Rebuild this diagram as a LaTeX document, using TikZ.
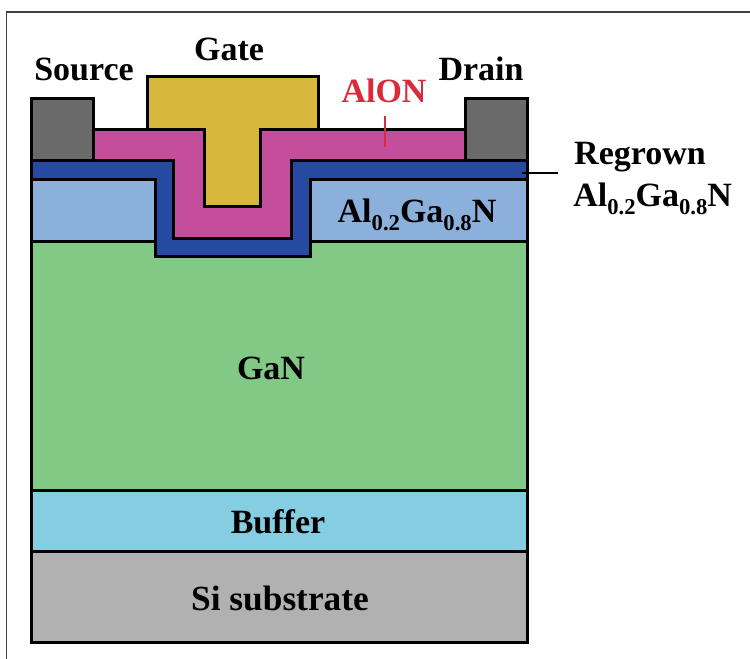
\documentclass[tikz,border=0pt]{standalone}
\usepackage{fontspec}
\setmainfont{Liberation Serif}
\newcommand{\lowsub}[1]{\raisebox{-0.22em}{\fontsize{17}{17}\selectfont #1}}
\tikzset{
  x=0.75pt,y=-0.75pt,
  layer/.style={draw=black,line width=2.25pt,line join=miter},
  lbl/.style={font=\fontsize{25.5}{30}\selectfont\bfseries,inner sep=0pt,text=black},
  frameline/.style={draw=black!75,line width=1pt}
}
\definecolor{metal}{HTML}{6A6A6A}
\definecolor{gold}{HTML}{D8B83C}
\definecolor{alon}{HTML}{C54E9C}
\definecolor{regrown}{HTML}{2649A2}
\definecolor{algan}{HTML}{8BB0DC}
\definecolor{gan}{HTML}{82C985}
\definecolor{buffer}{HTML}{85CDE0}
\definecolor{subst}{HTML}{B1B1B1}
\definecolor{alonred}{HTML}{D92B3A}
\begin{document}
\begin{tikzpicture}
\useasboundingbox (0,0) rectangle (750,659);
\fill[white] (0,0) rectangle (750,659);
\draw[frameline] (750,12) -- (6.5,12) -- (6.5,659);
% layers
\path[layer,fill=subst] (31,551) rectangle (527,642);
\path[layer,fill=buffer] (31,490) rectangle (527,551);
\path[layer,fill=gan] (31,242) rectangle (527,490);
\path[layer,fill=algan] (31,180) rectangle (155,242);
\path[layer,fill=algan] (310,180) rectangle (527,242);
\path[layer,fill=regrown] (31,161) -- (173,161) -- (173,239) -- (291,239) -- (291,161) -- (527,161) -- (527,180) -- (310,180) -- (310,257) -- (155,257) -- (155,180) -- (31,180) -- cycle;
\path[layer,fill=alon] (93,130) -- (465,130) -- (465,161) -- (291,161) -- (291,239) -- (173,239) -- (173,161) -- (93,161) -- cycle;
\path[layer,fill=gold] (147,77) -- (318,77) -- (318,130) -- (260,130) -- (260,207) -- (204,207) -- (204,130) -- (147,130) -- cycle;
\path[layer,fill=metal] (31,99) rectangle (93,161);
\path[layer,fill=metal] (465,99) rectangle (527,161);
% labels
\node[lbl,anchor=base] (source) at (84,81) {Source};
\node[lbl,anchor=base] (gate) at (229,61) {Gate};
\node[lbl,anchor=base] (drain) at (481,81) {Drain};
\node[lbl,anchor=base,text=alonred] (alonlabel) at (384,103) {AlON};
\node[lbl,anchor=base] (reg1) at (640,165) {Regrown};
\node[lbl,anchor=base west] (reg2) at (573,207) {Al\lowsub{0.2}Ga\lowsub{0.8}N};
\node[lbl,anchor=base] (alganlabel) at (417,223) {Al\lowsub{0.2}Ga\lowsub{0.8}N};
\node[lbl,anchor=base] (ganlabel) at (271,379) {GaN};
\node[lbl,anchor=base] (bufferlabel) at (278,533) {Buffer};
\node[lbl,anchor=base,font=\fontsize{26.5}{30}\selectfont\bfseries] (silabel) at (280,610) {Si substrate};
% leaders
\coordinate (alontip) at (385,147);
\coordinate (alontop) at (385,116);
\coordinate (regtip) at (522,173);
\coordinate (regend) at (558,173);
\draw[alonred,line width=1.6pt] (alontop) -- (alontip);
\draw[black,line width=1.3pt] (regtip) -- (regend);
\end{tikzpicture}
\end{document}
